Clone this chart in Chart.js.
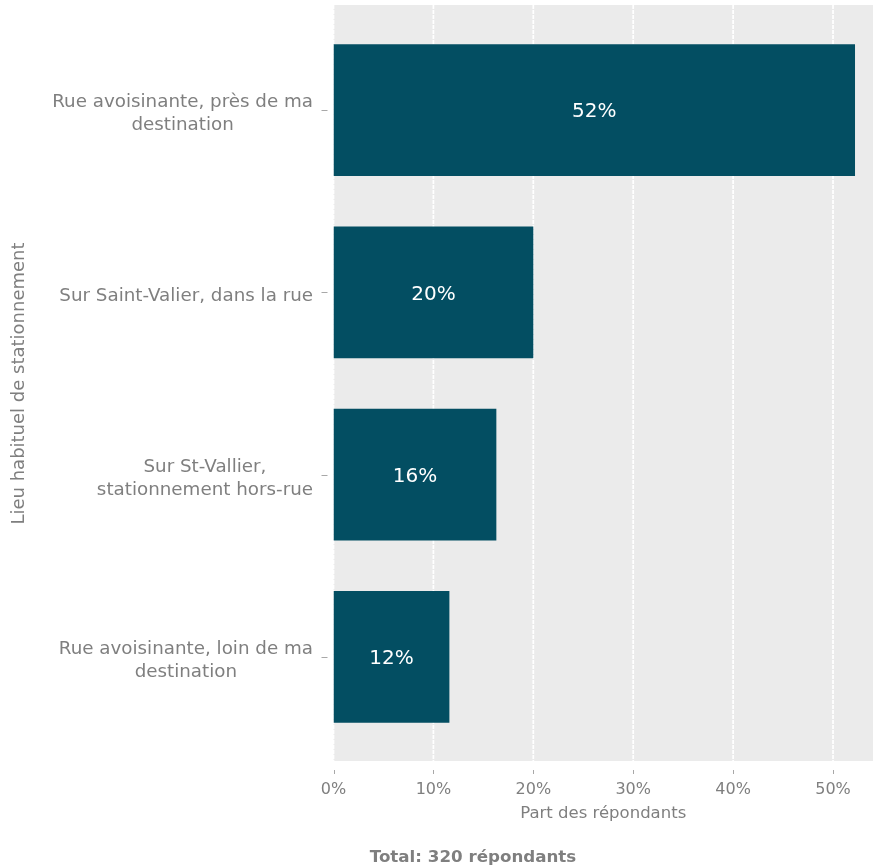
<!DOCTYPE html>
<html>
<head>
<meta charset="utf-8">
<script src="https://cdn.jsdelivr.net/npm/chart.js@4.4.1/dist/chart.umd.min.js"></script>
<style>
  body { margin: 0; background: #ffffff; }
  #wrap { width: 873px; height: 867px; position: relative; }
</style>
</head>
<body>
<div id="wrap"><canvas id="chart"></canvas></div>
<script>
const categories = [
    ["Rue avoisinante, près de ma", "destination"],
    ["Sur Saint-Valier, dans la rue"],
    ["Sur St-Vallier,", "stationnement hors-rue"],
    ["Rue avoisinante, loin de ma", "destination"]
];
const shares = [52.2, 20.0, 16.3, 11.6];
const xTicks = [0, 10, 20, 30, 40, 50];
const caption = "Total: 320 répondants";

const FONT = "'DejaVu Sans', Verdana, sans-serif";
const GREY = "#7f7f7f";

window.addEventListener("load", init)

function init() {
    // grey panel, white grid, tick marks, and the text ggplot-style
    const panel = {
        id: "panel",
        beforeDatasetsDraw(chart) {
            const { ctx, chartArea, scales: { x, y } } = chart;
            const top = chartArea.top - 14, bottom = chartArea.bottom + 13;
            ctx.save();
            ctx.fillStyle = "#ebebeb";
            ctx.fillRect(chartArea.left, top, chartArea.right - chartArea.left, bottom - top);

            ctx.strokeStyle = "#ffffff";
            ctx.lineWidth = 1.7;
            ctx.setLineDash([4, 1]);
            xTicks.forEach(v => {
                const px = x.getPixelForValue(v);
                ctx.beginPath();
                ctx.moveTo(px, top);
                ctx.lineTo(px, bottom);
                ctx.stroke();
            });
            ctx.setLineDash([]);

            ctx.strokeStyle = "#a8a8a8";
            ctx.lineWidth = 1;
            xTicks.forEach(v => {
                const px = Math.round(x.getPixelForValue(v)) + 0.5;
                ctx.beginPath();
                ctx.moveTo(px, bottom + 9);
                ctx.lineTo(px, bottom + 13);
                ctx.stroke();
            });
            categories.forEach((c, i) => {
                const py = Math.round(y.getPixelForValue(i)) + 0.5;
                ctx.beginPath();
                ctx.moveTo(chartArea.left - 12, py);
                ctx.lineTo(chartArea.left - 6, py);
                ctx.stroke();
            });
            ctx.restore();
        },
        afterDraw(chart) {
            const { ctx, chartArea, scales: { y } } = chart;
            ctx.save();

            // category labels: block right aligned, lines centred
            ctx.font = "18.3px " + FONT;
            ctx.fillStyle = GREY;
            ctx.textAlign = "center";
            ctx.textBaseline = "middle";
            const right = chartArea.left - 20.5;
            categories.forEach((lines, i) => {
                const w = Math.max(...lines.map(l => ctx.measureText(l).width));
                const cx = right - w / 2;
                const py = y.getPixelForValue(i) + 4 - (lines.length - 1) * 23 / 2;
                lines.forEach((l, j) => ctx.fillText(l, cx, py + j * 23));
            });

            // value labels inside bars
            ctx.font = "20px " + FONT;
            ctx.fillStyle = "#ffffff";
            chart.getDatasetMeta(0).data.forEach((bar, i) => {
                ctx.fillText(Math.round(shares[i]) + "%", (bar.x + bar.base) / 2, bar.y + 2);
            });

            ctx.font = "bold 16.7px " + FONT;
            ctx.fillStyle = GREY;
            ctx.fillText(caption, 473, 858);
            ctx.restore();
        }
    };

    new Chart(
        document.querySelector("#chart").getContext("2d"),
        {
            type: "bar",
            data: {
                labels: categories,
                datasets: [{
                    data: shares,
                    backgroundColor: "#034e62",
                    borderWidth: 0,
                    barPercentage: 0.724,
                    categoryPercentage: 1,
                }]
            },
            options: {
                indexAxis: "y",
                responsive: true,
                maintainAspectRatio: false,
                animation: false,
                layout: { padding: { top: 19, right: 0, bottom: 0, left: 0 } },
                plugins: {
                    legend: { display: false },
                    tooltip: { enabled: false },
                },
                scales: {
                    x: {
                        type: "linear",
                        min: 0,
                        max: 54,
                        grid: { display: false, drawTicks: false },
                        border: { display: false },
                        ticks: {
                            stepSize: 10,
                            includeBounds: false,
                            padding: 32,
                            color: GREY,
                            font: { family: FONT, size: 16 },
                            callback: v => v + "%",
                        },
                        title: {
                            display: true,
                            text: "Part des répondants",
                            color: GREY,
                            font: { family: FONT, size: 16.5 },
                            padding: { top: 4, bottom: 43 },
                        },
                        afterFit: scale => {
                            scale.height = 119;
                            scale.paddingLeft = 0;
                            scale.paddingRight = 0;
                        },
                    },
                    y: {
                        grid: { display: false, drawTicks: false },
                        border: { display: false },
                        ticks: { display: false },
                        title: {
                            display: true,
                            text: "Lieu habituel de stationnement",
                            color: GREY,
                            font: { family: FONT, size: 18 },
                            padding: { top: 9, bottom: 0 },
                        },
                        afterFit: scale => { scale.width = 333.5; },
                    },
                },
            },
            plugins: [panel],
        }
    );
}
</script>
</body>
</html>
